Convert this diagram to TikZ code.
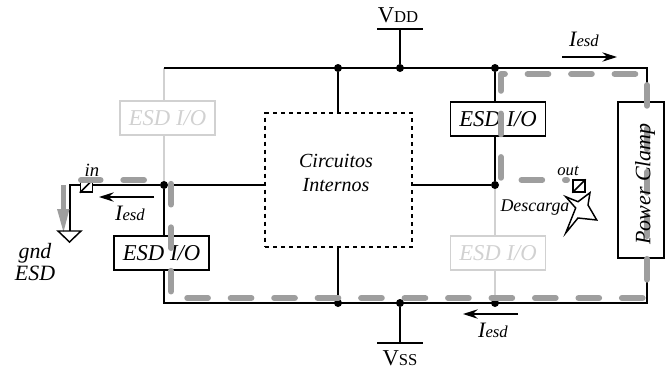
\documentclass[tikz,border=0pt]{standalone}
\usepackage{fontspec}
\setmainfont{Liberation Serif}
\usepackage{tikz}
\usetikzlibrary{arrows.meta}
\definecolor{ghost}{gray}{0.82}
\definecolor{esdpath}{gray}{0.62}
\tikzset{
  esdbox/.style={draw,line width=1.1pt,minimum width=71.5pt,minimum height=25.5pt,inner sep=0pt,font=\fontsize{17}{17}\selectfont\itshape},
  ghostbox/.style={esdbox,draw=ghost,text=ghost},
  wire/.style={line width=1.1pt},
  ghostwire/.style={line width=1.1pt,draw=ghost},
  junction/.style={circle,fill=black,inner sep=0pt,minimum size=6pt},
  padbox/.style={draw,line width=1.1pt,fill=white,minimum size=9pt,inner sep=0pt},
  current/.style={line width=0.9pt,-{Stealth[length=11pt,width=7pt]}},
  lab/.style={inner sep=0pt,font=\itshape},
  esddash/.style={esdpath,line width=4.5pt,line cap=round,line join=round,dash pattern=on 15.5pt off 17.1pt}
}
\newcommand{\Iesd}{{\fontsize{16.5}{16.5}\selectfont I}{\fontsize{12.5}{12.5}\selectfont esd}}
\begin{document}
\begin{tikzpicture}[x=0.75pt,y=-0.75pt]
        \useasboundingbox (0,0) rectangle (665,369);

        % Nodos
        \node[junction] (vddn) at (400,68) {};
        \node[junction] (topc) at (338,68) {};
        \node[junction] (topr) at (495,68) {};
        \node[junction] (inn) at (164,185) {};
        \node[junction] (outn) at (495,185) {};
        \node[junction] (vssn) at (400,303) {};
        \node[junction] (botc) at (338,303) {};
        \node[junction] (botr) at (495,303) {};
        \coordinate (topl) at (164,68);
        \coordinate (botl) at (164,303);
        \coordinate (topk) at (647,68);
        \coordinate (botk) at (647,303);
        \coordinate (bend) at (70,185);
        \coordinate (gndtop) at (70,231);

        % Bloques
        \node[ghostbox] (iol) at (167.5,118) {ESD I/O};
        \node[esdbox] (iob) at (161.5,253) {ESD I/O};
        \node[esdbox] (iot) at (498,119) {ESD I/O};
        \node[ghostbox] (iog) at (498,253) {ESD I/O};
        \node[draw,dashed,line width=1.1pt,minimum width=110pt,minimum height=100.5pt,inner sep=0pt] (core) at (338.5,180) {};
        \node[align=center,inner sep=0pt,font=\fontsize{15}{18.5}\selectfont\itshape] (corel) at (336,173) {Circuitos\\Internos};
        \node[draw,line width=1.1pt,minimum width=34.5pt,minimum height=117pt,inner sep=0pt] (clamp) at (641,180) {};

        % Lineas claras
        \draw[ghostwire] (topl) -- (iol.north -| topl);
        \draw[ghostwire] (iol.south -| inn) -- (inn);
        \draw[ghostwire] (outn) -- (iog.north -| outn);
        \draw[ghostwire] (iog.south -| botr) -- (botr);

        % Lineas
        \draw[wire] (topl) -- (topk) -- (clamp.north -| topk);
        \draw[wire] (clamp.south -| botk) -- (botk) -- (botl) -- (iob.south -| botl);
        \draw[wire] (iob.north -| inn) -- (inn);
        \draw[wire] (core.west |- inn) -- (inn) -- (bend) -- (gndtop);
        \draw[wire] (core.east |- outn) -- (outn);
        \draw[wire] (outn) -- (iot.south -| outn);
        \draw[wire] (iot.north -| topr) -- (topr);
        \draw[wire] (topc) -- (core.north -| topc);
        \draw[wire] (botc) -- (core.south -| botc);

        % Alimentacion
        \coordinate (vddt) at (400,29);
        \coordinate (vsst) at (400,343);
        \draw[wire] (vddn) -- (vddt);
        \draw[wire] (vssn) -- (vsst);
        \draw[wire] (377,29) -- (423,29);
        \draw[wire] (377,343) -- (423,343);
        \node[inner sep=0pt] (vddl) at (398,15) {\fontsize{17}{17}\selectfont V\fontsize{12.5}{12.5}\selectfont DD};
        \node[inner sep=0pt] (vssl) at (400,358) {\fontsize{17}{17}\selectfont V\fontsize{12.5}{12.5}\selectfont SS};

        % Pads
        \node[padbox] (inpad) at (86.5,186) {};
        \node[padbox] (outpad) at (579,186) {};
        \draw[wire] (inpad.south west) -- (inpad.north east);
        \draw[wire] (outpad.south west) -- (outpad.north east);

        % Trayectoria de la descarga
        \draw[esddash,dash phase=14pt]
          (567,180) -- (501,180) -- (501,74) -- (647,74) -- (647,298) -- (171,298) -- (171,181);
        \draw[esddash] (144,180) -- (81,180);
        \draw[esdpath,line width=4.2pt] (63.5,185) -- (63.5,212);
        \fill[esdpath] (57,209) -- (69.5,209) -- (63.5,232) -- cycle;

        % Tierra
        \draw[wire] (58,231) -- (81,231) -- (69.5,242) -- cycle;

        % Descarga
        \draw[wire,fill=white,line join=miter] (565.7,196.7) -- (578,201.7) -- (590,192.7) -- (588,205) -- (596.7,220) -- (578,218) -- (565.7,233) -- (575.7,208) -- cycle;

        % Corrientes
        \coordinate (cta) at (562,57); \coordinate (ctb) at (617,57);
        \coordinate (cla) at (154,197); \coordinate (clb) at (99,197);
        \coordinate (cba) at (518,314); \coordinate (cbb) at (463,314);
        \draw[current] (cta) -- (ctb);
        \draw[current] (cla) -- (clb);
        \draw[current] (cba) -- (cbb);
        \node[lab] (ita) at (584,39) {\Iesd};
        \node[lab] (itl) at (130,213) {\Iesd};
        \node[lab] (itb) at (493,330) {\Iesd};

        % Textos
        \node[lab,font=\fontsize{14}{14}\selectfont\itshape] (inl) at (92,170) {in};
        \node[lab,font=\fontsize{12.5}{12.5}\selectfont\itshape] (outl) at (568,171) {out};
        \node[lab,font=\fontsize{13.4}{13.4}\selectfont\itshape] (desc) at (535,208) {Descarga};
        \node[lab,align=center,font=\fontsize{16.4}{16.5}\selectfont\itshape] (gndl) at (35,262) {gnd\\ESD};
        \node[lab,rotate=90,font=\fontsize{16.5}{16.5}\selectfont\itshape] (pclamp) at (645,184) {Power Clamp};
\end{tikzpicture}
\end{document}
